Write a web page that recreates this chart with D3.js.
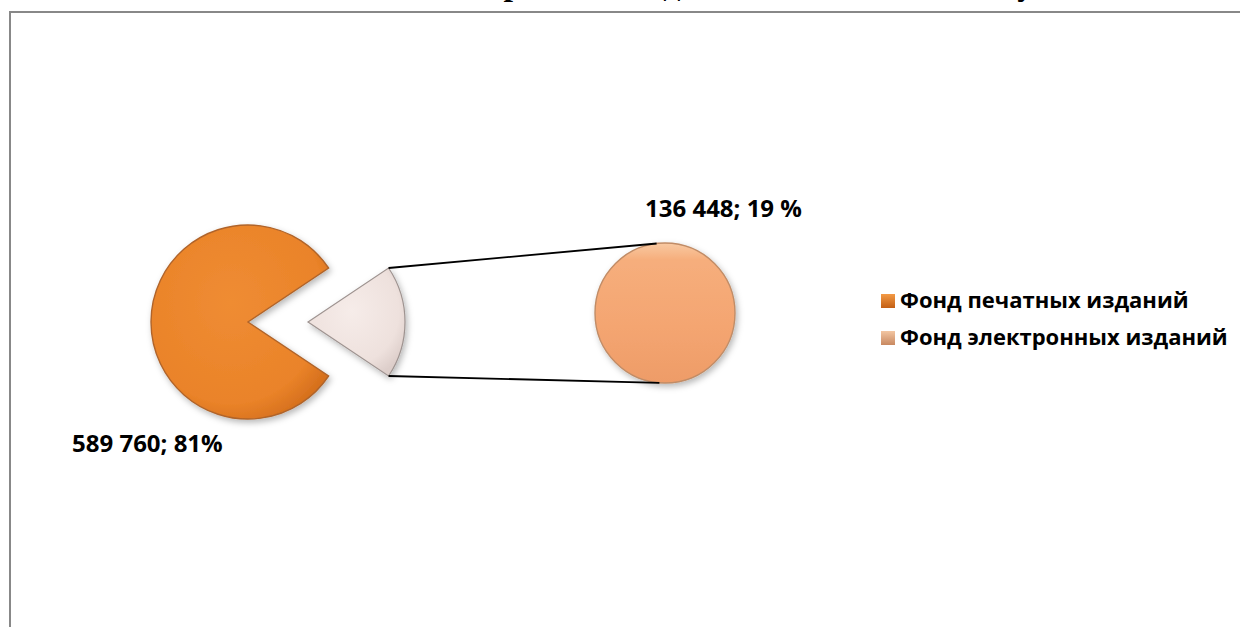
<!DOCTYPE html>
<html lang="ru">
<head>
<meta charset="utf-8">
<script src="https://cdn.jsdelivr.net/npm/d3@7"></script>
<style>
  html, body { margin: 0; padding: 0; background: #fff; overflow: hidden; }
  svg { display: block; }
  .lbl { font-family: "Open Sans", sans-serif; font-weight: 700; fill: #000; }
  .ttl { font-family: "Liberation Serif", "Times New Roman", serif; font-weight: 700; fill: #000; }
</style>
</head>
<body>
<svg id="chart" width="1240" height="627"></svg>
<script>
// Library holdings split by type of edition
const categories = ["Фонд печатных изданий", "Фонд электронных изданий"];
const values = [589760, 136448];
const valueLabels = ["589 760; 81%", "136 448; 19 %"];
const titleText = "Соотношение печатных и электронных изданий в библиотечном учебном комплексе";

const W = 1240, H = 627;
const svg = d3.select("#chart");
const defs = svg.append("defs");

// soft shadow under the pie shapes
const sh = defs.append("filter").attr("id", "shadow")
  .attr("x", "-20%").attr("y", "-20%").attr("width", "150%").attr("height", "150%");
sh.append("feDropShadow").attr("dx", 2).attr("dy", 3).attr("stdDeviation", 3)
  .attr("flood-color", "#000").attr("flood-opacity", 0.28);

function radial(id, stops) {
  const g = defs.append("radialGradient").attr("id", id)
    .attr("cx", "45%").attr("cy", "40%").attr("r", "65%");
  stops.forEach(([o, c]) => g.append("stop").attr("offset", o).attr("stop-color", c));
}
function linear(id, stops) {
  const g = defs.append("linearGradient").attr("id", id)
    .attr("x1", 0).attr("y1", 0).attr("x2", 0).attr("y2", 1);
  stops.forEach(([o, c]) => g.append("stop").attr("offset", o).attr("stop-color", c));
}
radial("gOrange", [["0%", "#EF8C33"], ["80%", "#EA8329"], ["100%", "#D6701D"]]);
radial("gPale", [["0%", "#F6ECE9"], ["75%", "#EEE1DD"], ["100%", "#DDCECA"]]);
linear("gPeach", [["0%", "#F8C9A2"], ["12%", "#F6AE7C"], ["60%", "#F4A571"], ["100%", "#EE9C68"]]);
linear("gKey1", [["0%", "#F39A45"], ["100%", "#C35F15"]]);
linear("gKey2", [["0%", "#F3C6A2"], ["100%", "#C88860"]]);

// frame of the chart area
svg.append("path")
  .attr("d", `M10,${H} L10,12 L${W + 5},12`)
  .attr("fill", "none").attr("stroke", "#888").attr("stroke-width", 2);

// title line (sits above the visible area)
svg.append("text").attr("class", "ttl")
  .attr("x", 15).attr("y", -5)
  .attr("font-size", 34)
  .text(titleText);

// ---- main pie ----
const cx = 248, cy = 322, r = 97, explode = 60;
const total = d3.sum(values);
const smallSpan = 2 * Math.PI * values[1] / total;
// put the split slice centred on the right-hand side
const start = Math.PI / 2 + smallSpan / 2;
const pie = d3.pie().sort(null).value(d => d)
  .startAngle(start).endAngle(start + 2 * Math.PI);
const arcs = pie(values);
const arc = d3.arc().innerRadius(0).outerRadius(r);

const main = svg.append("g").attr("transform", `translate(${cx},${cy})`);
main.append("path")
  .attr("d", arc(arcs[0]))
  .attr("fill", "url(#gOrange)")
  .attr("stroke", "#B0642A").attr("stroke-width", 1.4)
  .attr("filter", "url(#shadow)");

const split = main.append("g").attr("transform", `translate(${explode},0)`);
split.append("path")
  .attr("d", arc(arcs[1]))
  .attr("fill", "url(#gPale)")
  .attr("stroke", "#9E9390").attr("stroke-width", 1.2)
  .attr("filter", "url(#shadow)");

// ---- secondary pie (the split slice expanded) ----
const c2x = 665, c2y = 313, r2 = 70;
const pie2 = d3.pie().sort(null).value(d => d);
const arcs2 = pie2([values[1]]);
const arc2 = d3.arc().innerRadius(0).outerRadius(r2);
const second = svg.append("g").attr("transform", `translate(${c2x},${c2y})`);
second.append("path")
  .attr("d", arc2(arcs2[0]))
  .attr("fill", "url(#gPeach)")
  .attr("stroke", "#C18C66").attr("stroke-width", 1.4)
  .attr("filter", "url(#shadow)");

// connector lines from the split slice to the secondary pie
const a0 = arcs[1].startAngle, a1 = arcs[1].endAngle;
const px = a => cx + explode + r * Math.sin(a);
const py = a => cy - r * Math.cos(a);
const qx = a => c2x + r2 * Math.sin(a);
const qy = a => c2y - r2 * Math.cos(a);
const tTop = -0.12, tBot = Math.PI + 0.08;
svg.append("line")
  .attr("x1", px(a0)).attr("y1", py(a0)).attr("x2", qx(tTop)).attr("y2", qy(tTop))
  .attr("stroke", "#000").attr("stroke-width", 1.8);
svg.append("line")
  .attr("x1", px(a1)).attr("y1", py(a1)).attr("x2", qx(tBot)).attr("y2", qy(tBot))
  .attr("stroke", "#000").attr("stroke-width", 1.8);

// data labels
svg.append("text").attr("class", "lbl").attr("font-size", 24)
  .attr("x", 72).attr("y", 452).text(valueLabels[0]);
svg.append("text").attr("class", "lbl").attr("font-size", 24)
  .attr("x", 645).attr("y", 217).text(valueLabels[1]);

// legend
const legend = svg.append("g").attr("transform", "translate(881,294)");
const keys = ["url(#gKey1)", "url(#gKey2)"];
categories.forEach((c, i) => {
  const row = legend.append("g").attr("transform", `translate(0,${i * 37})`);
  row.append("rect").attr("width", 14).attr("height", 14)
    .attr("fill", keys[i]);
  row.append("text").attr("class", "lbl").attr("font-size", 22)
    .attr("x", 19).attr("y", 14).text(c);
});
</script>
</body>
</html>
